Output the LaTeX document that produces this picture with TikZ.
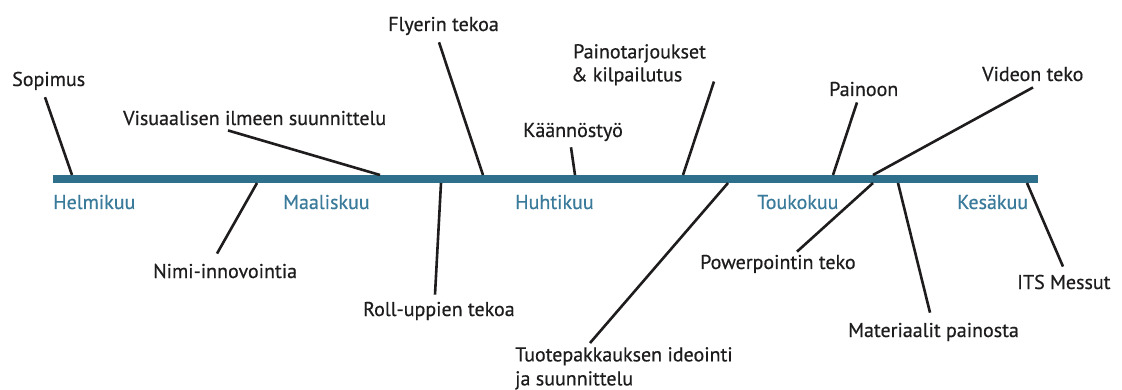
\documentclass[tikz,border=0pt]{standalone}
\usepackage{fontspec}
\setmainfont{PT Sans}
\newfontfamily\lblfont[FakeBold=0.5]{PT Sans}
\definecolor{barblue}{HTML}{2E6F8C}
\definecolor{monthblue}{HTML}{3A7B9B}
\definecolor{ink}{HTML}{1E1C1C}
\begin{document}
\begin{tikzpicture}[x=1pt,y=-1pt,
 lbl/.style={anchor=base west,inner sep=0pt,font=\lblfont\fontsize{20}{24}\selectfont,text=ink},
 lbl2/.style={lbl,anchor=north west,align=left},
 month/.style={lbl,text=monthblue},
 conn/.style={line width=2.6pt,draw=ink}]
\useasboundingbox (0,0) rectangle (1122,390);
\fill[white] (0,0) rectangle (1122,390);
% timeline bar
\draw[barblue,line width=8.5pt] (53,179) coordinate (barL) -- (1038,179) coordinate (barR);
% month labels
\node[month] (m1) at (53,209) {Helmikuu};
\node[month] (m2) at (283,209) {Maaliskuu};
\node[month] (m3) at (515,209) {Huhtikuu};
\node[month] (m4) at (757,209) {Toukokuu};
\node[month] (m5) at (957,209) {Kesäkuu};
% labels above
\node[lbl] (sop) at (12,86) {Sopimus};
\node[lbl] (vis) at (123,125) {Visuaalisen ilmeen suunnittelu};
\node[lbl] (fly) at (388,31) {Flyerin tekoa};
\node[lbl2] (pai) at (573,44) {Painotarjoukset\\[-1pt]\hspace*{-2pt}\& kilpailutus};
\node[lbl] (kaa) at (523,137) {Käännöstyö};
\node[lbl] (pno) at (829,96) {Painoon};
\node[lbl] (vid) at (982,81) {Videon teko};
% labels below
\node[lbl] (nim) at (153,278) {Nimi-innovointia};
\node[lbl] (rol) at (363,316) {Roll-uppien tekoa};
\node[lbl2] (tuo) at (515,347) {Tuotepakkauksen ideointi\\ja suunnittelu};
\node[lbl] (pow) at (700,269) {Powerpointin teko};
\node[lbl] (mat) at (848,337) {Materiaalit painosta};
\node[lbl] (its) at (1017,289) {ITS Messut};
% points on the bar
\coordinate (b1) at (72,175);
\coordinate (b2) at (380,175);
\coordinate (b3) at (483,175);
\coordinate (b4) at (683,175);
\coordinate (b5) at (575,175);
\coordinate (b6) at (833,175);
\coordinate (b7) at (873,175);
\coordinate (c1) at (257,183);
\coordinate (c2) at (441,183);
\coordinate (c3) at (728,183);
\coordinate (c4) at (873,183);
\coordinate (c5) at (898,183);
\coordinate (c6) at (1027,183);
% connectors
\draw[conn] (sop.south west) ++(33,7) -- (b1);
\draw[conn] (vis.south west) ++(105,5) -- (b2);
\draw[conn] (fly.south west) ++(51,7) -- (b3);
\draw[conn] (pai.south west) ++(141,-4) -- (b4);
\draw[conn] (kaa.south west) ++(48,6) -- (b5);
\draw[conn] (pno.south west) ++(28,6) -- (b6);
\draw[conn] (vid.south west) ++(51,6) -- (b7);
\draw[conn] (nim.north west) ++(64,-10) -- (c1);
\draw[conn] (rol.north west) ++(72,-7) -- (c2);
\draw[conn] (tuo.north west) ++(75,-4) -- (c3);
\draw[conn] (pow.north west) ++(97,-3) -- (c4);
\draw[conn] (mat.north west) ++(82,-10) -- (c5);
\draw[conn] (its.north west) ++(46,-8) -- (c6);
\end{tikzpicture}
\end{document}
